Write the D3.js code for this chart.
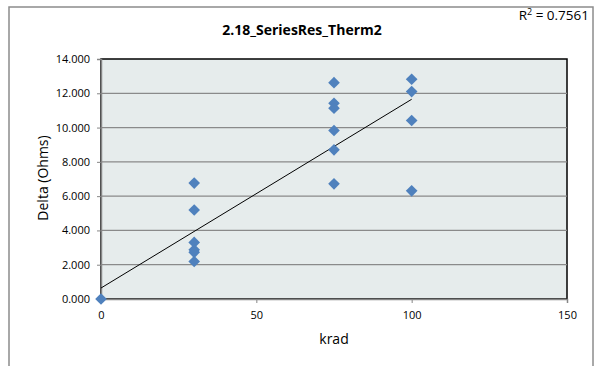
<!DOCTYPE html>
<html><head><meta charset="utf-8">
<script src="https://cdn.jsdelivr.net/npm/d3@7"></script>
<style>
html,body{margin:0;padding:0;background:#fff;}
svg{display:block;font-family:"Open Sans",sans-serif;}
</style></head>
<body><svg id="c" width="596" height="366"></svg>
<script>
// Data
const krad30 = [6.76, 5.19, 3.30, 2.87, 2.72, 2.19];
const krad75 = [12.62, 11.42, 11.13, 9.83, 8.70, 6.72];
const krad100 = [12.82, 12.10, 10.41, 6.31];
const krad0 = [0.0];
const xTicks = [0, 50, 100, 150];
const yTicks = [0, 2, 4, 6, 8, 10, 12, 14];
const trendX = [0, 100];
const trendY = [0.64, 11.65];
const titleText = "2.18_SeriesRes_Therm2";
const r2Text = "0.7561";

const points = [
  ...krad0.map(v => ({x: 0, y: v})),
  ...krad30.map(v => ({x: 30, y: v})),
  ...krad75.map(v => ({x: 75, y: v})),
  ...krad100.map(v => ({x: 100, y: v}))
];

const svg = d3.select("#c");
const L = 101, R = 567, T = 59, B = 299;
const x = d3.scaleLinear().domain([0, 150]).range([L, R]);
const y = d3.scaleLinear().domain([0, 14]).range([B, T]);

// outer frame
svg.append("rect").attr("x", 9).attr("y", 7).attr("width", 584).attr("height", 380)
  .attr("fill", "#fff").attr("stroke", "#8c8c8c").attr("stroke-width", 1.5);

// plot area
svg.append("rect").attr("x", L).attr("y", T).attr("width", R - L).attr("height", B - T)
  .attr("fill", "#e6ecec").attr("stroke", "#000").attr("stroke-width", 1.5);

// gridlines
svg.append("g").selectAll("line").data(yTicks.filter(d => d > 0 && d < 14)).join("line")
  .attr("x1", L).attr("x2", R).attr("y1", d => y(d)).attr("y2", d => y(d))
  .attr("stroke", "#8a8a8a").attr("stroke-width", 1.2);

// y axis
const yAxis = d3.axisLeft(y).tickValues(yTicks).tickSize(4).tickPadding(7)
  .tickFormat(d3.format(".3f"));
const gy = svg.append("g").attr("transform", `translate(${L},0)`).call(yAxis);
gy.select(".domain").attr("stroke", "#868686").attr("stroke-width", 1.5);
gy.selectAll(".tick line").attr("stroke", "#868686");
gy.selectAll("text").attr("font-size", 11).attr("fill", "#000").attr("font-family", "Open Sans");

// x axis
const xAxis = d3.axisBottom(x).tickValues(xTicks).tickSize(4).tickPadding(8);
const gx = svg.append("g").attr("transform", `translate(0,${B})`).call(xAxis);
gx.select(".domain").attr("stroke", "#868686").attr("stroke-width", 1.5);
gx.selectAll(".tick line").attr("stroke", "#868686");
gx.selectAll("text").attr("font-size", 11).attr("fill", "#000").attr("font-family", "Open Sans");

// trendline
svg.append("line")
  .attr("x1", x(trendX[0])).attr("y1", y(trendY[0]))
  .attr("x2", x(trendX[1])).attr("y2", y(trendY[1]))
  .attr("stroke", "#000").attr("stroke-width", 1);

// markers
const sym = d3.symbol().type(d3.symbolSquare).size(68);
svg.append("g").selectAll("path").data(points).join("path")
  .attr("d", sym)
  .attr("transform", d => `translate(${x(d.x)},${y(d.y)}) rotate(45)`)
  .attr("fill", "#4f81bd");

// titles
svg.append("text").attr("x", 302).attr("y", 35).attr("text-anchor", "middle")
  .attr("font-size", 14).attr("font-weight", "bold").text(titleText);

const r2 = svg.append("text").attr("x", 589).attr("y", 20).attr("text-anchor", "end")
  .attr("font-size", 13.5);
r2.append("tspan").text("R");
r2.append("tspan").attr("dy", -5).attr("font-size", 9).text("2");
r2.append("tspan").attr("dy", 5).text(" = " + r2Text);

svg.append("text").attr("x", 334).attr("y", 344).attr("text-anchor", "middle")
  .attr("font-size", 14).text("krad");

svg.append("text").attr("transform", "translate(48,178) rotate(-90)")
  .attr("text-anchor", "middle").attr("font-size", 14).text("Delta (Ohms)");
</script></body></html>
